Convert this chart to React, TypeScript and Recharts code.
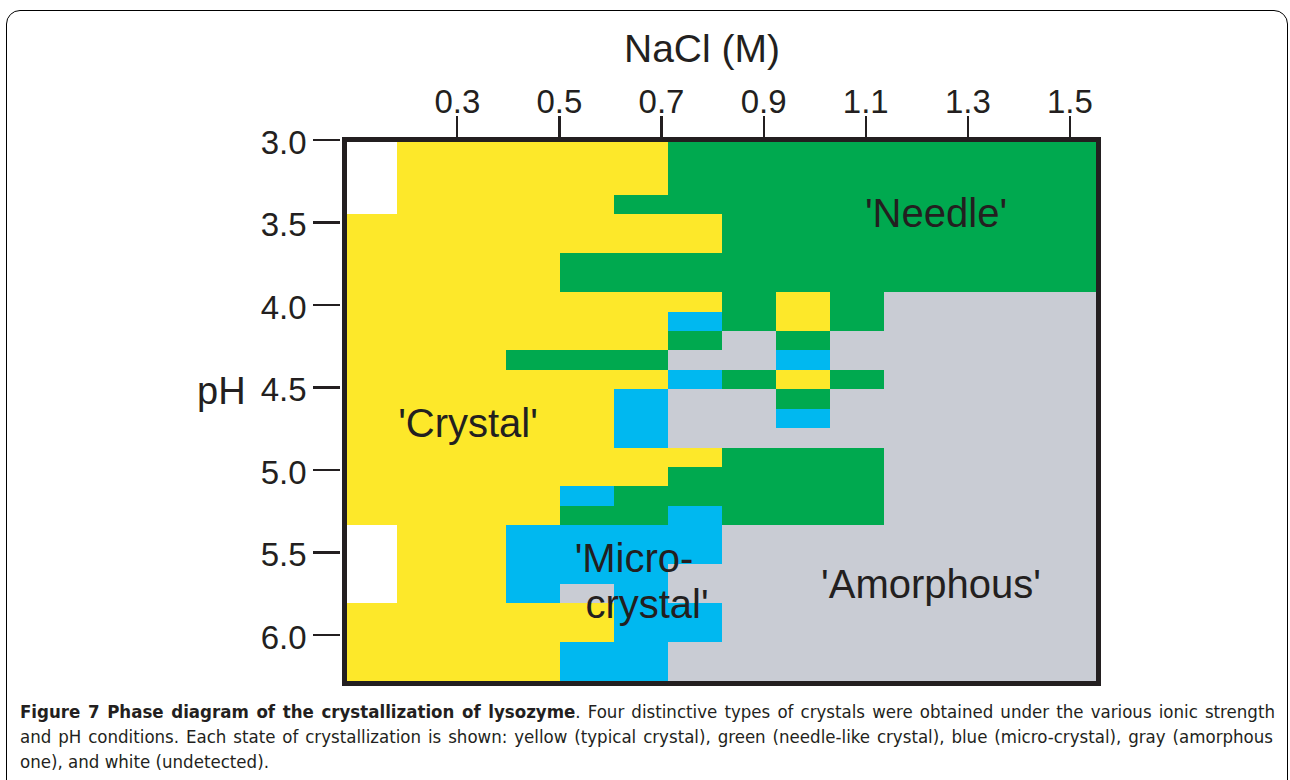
import React from 'react';
import { ComposedChart, XAxis, YAxis, ReferenceArea } from 'recharts';

// NaCl (M) edges of the 14 grid columns
const naclEdges = [0.078, 0.1825, 0.2885, 0.3944, 0.5004, 0.6063, 0.7123, 0.8182, 0.9242, 1.0302, 1.1361, 1.2421, 1.348, 1.454, 1.555];
// pH edges of the 28 grid rows
const phEdges = [
  2.994, 3.098, 3.216, 3.334, 3.451, 3.569, 3.687, 3.805, 3.922, 4.04, 4.158, 4.275, 4.393, 4.511, 4.628,
  4.746, 4.864, 4.982, 5.099, 5.217, 5.335, 5.452, 5.57, 5.688, 5.805, 5.923, 6.041, 6.158, 6.294,
];
// state of each cell, one string per pH row, one letter per NaCl column
// Y crystal, G needle, B micro-crystal, A amorphous, W undetected
const states = [
  'WYYYYYGGGGGGGG',
  'WYYYYYGGGGGGGG',
  'WYYYYYGGGGGGGG',
  'WYYYYGGGGGGGGG',
  'YYYYYYYGGGGGGG',
  'YYYYYYYGGGGGGG',
  'YYYYGGGGGGGGGG',
  'YYYYGGGGGGGGGG',
  'YYYYYYYGYGAAAA',
  'YYYYYYBGYGAAAA',
  'YYYYYYGAGAAAAA',
  'YYYGGGAABAAAAA',
  'YYYYYYBGYGAAAA',
  'YYYYYBAAGAAAAA',
  'YYYYYBAABAAAAA',
  'YYYYYBAAAAAAAA',
  'YYYYYYYGGGAAAA',
  'YYYYYYGGGGAAAA',
  'YYYYBGGGGGAAAA',
  'YYYYGGBGGGAAAA',
  'WYYBBBBAAAAAAA',
  'WYYBBBBAAAAAAA',
  'WYYBBBAAAAAAAA',
  'WYYBABAAAAAAAA',
  'YYYYYBBAAAAAAA',
  'YYYYYBBAAAAAAA',
  'YYYYBBAAAAAAAA',
  'YYYYBBAAAAAAAA',
];
const naclTicks = [0.3, 0.5, 0.7, 0.9, 1.1, 1.3, 1.5];
const phTicks = [3.0, 3.5, 4.0, 4.5, 5.0, 5.5, 6.0];
const regionLabels = [
  { text: "'Needle'", x: 936, y: 227 },
  { text: "'Crystal'", x: 468, y: 437 },
  { text: "'Micro-", x: 634, y: 572 },
  { text: "crystal'", x: 647, y: 618 },
  { text: "'Amorphous'", x: 931, y: 598 },
];

const colors: Record<string, string> = {
  Y: '#fde82a',
  G: '#00a94f',
  B: '#00b8f0',
  A: '#c9ccd4',
  W: '#ffffff',
};

const INK = '#231f20';
const FONT = '"Liberation Sans", Arial, sans-serif';
const PLOT_TOP = 139;
const PLOT_LEFT = 344;

// merge runs of equal cells within a row
const cells: { x1: number; x2: number; y1: number; y2: number; s: string }[] = [];
states.forEach((row, r) => {
  let start = 0;
  for (let c = 1; c <= row.length; c++) {
    if (c === row.length || row[c] !== row[start]) {
      cells.push({ x1: naclEdges[start], x2: naclEdges[c], y1: phEdges[r], y2: phEdges[r + 1], s: row[start] });
      start = c;
    }
  }
});

const TopTick = (props: any) => {
  const { x, payload } = props;
  return (
    <g>
      <line x1={x} x2={x} y1={116} y2={PLOT_TOP} stroke={INK} strokeWidth={2.2} />
      <text x={x} y={113} textAnchor="middle" fontSize={33} fontFamily={FONT} fill={INK}>
        {Number(payload.value).toFixed(1)}
      </text>
    </g>
  );
};

const LeftTick = (props: any) => {
  const { y, payload } = props;
  return (
    <g>
      <line x1={312.5} x2={PLOT_LEFT - 4.5} y1={y} y2={y} stroke={INK} strokeWidth={2.2} />
      <text x={306.5} y={y + 14} textAnchor="end" fontSize={33} fontFamily={FONT} fill={INK}>
        {Number(payload.value).toFixed(1)}
      </text>
    </g>
  );
};

export default function App() {
  return (
    <div style={{ position: 'absolute', left: 0, top: 0, width: 1290, height: 780, overflow: 'hidden', background: '#fff' }}>
      <div
        style={{
          position: 'absolute', left: 6, top: 10, width: 1282, height: 820,
          border: '1.5px solid #000', borderRadius: 14, boxSizing: 'border-box',
        }}
      />
      <div style={{ position: 'absolute', left: 0, top: 0, shapeRendering: 'crispEdges' } as React.CSSProperties}>
        <ComposedChart width={1290} height={700} margin={{ top: 99, right: 192, bottom: 16.5, left: 264 }}>
          <XAxis
            type="number"
            orientation="top"
            dataKey="x"
            domain={[naclEdges[0], naclEdges[naclEdges.length - 1]]}
            ticks={naclTicks}
            interval={0}
            allowDataOverflow
            height={40}
            axisLine={false}
            tickLine={false}
            tick={<TopTick />}
          />
          <YAxis
            type="number"
            dataKey="y"
            domain={[phEdges[0], phEdges[phEdges.length - 1]]}
            reversed
            ticks={phTicks}
            interval={0}
            allowDataOverflow
            width={80}
            axisLine={false}
            tickLine={false}
            tick={<LeftTick />}
          />
          {cells.map((c, i) => (
            <ReferenceArea
              key={i}
              x1={c.x1}
              x2={c.x2}
              y1={c.y1}
              y2={c.y2}
              fill={colors[c.s]}
              fillOpacity={1}
              stroke="none"
              ifOverflow="visible"
            />
          ))}
          <ReferenceArea
            x1={naclEdges[0]}
            x2={naclEdges[naclEdges.length - 1]}
            y1={phEdges[0]}
            y2={phEdges[phEdges.length - 1]}
            fill="none"
            stroke={INK}
            strokeWidth={5}
            ifOverflow="visible"
          />
        </ComposedChart>
      </div>
      <svg width={1290} height={700} style={{ position: 'absolute', left: 0, top: 0, pointerEvents: 'none' }}>
        <text x={702} y={62} textAnchor="middle" fontSize={39} fontFamily={FONT} fill={INK}>
          NaCl (M)
        </text>
        <text x={197} y={404} fontSize={38} fontFamily={FONT} fill={INK}>
          pH
        </text>
        {regionLabels.map((l) => (
          <text key={l.text} x={l.x} y={l.y} textAnchor="middle" fontSize={40} fontFamily={FONT} fill={INK}>
            {l.text}
          </text>
        ))}
      </svg>
      <div
        style={{
          position: 'absolute', left: 20, top: 699, width: 1255,
          fontFamily: '"Liberation Sans Narrow", "DejaVu Sans Condensed", sans-serif',
          fontSize: 18.5, lineHeight: '25px', color: INK,
        }}
      >
        <div style={{ textAlign: 'justify', textAlignLast: 'justify', whiteSpace: 'nowrap' }}>
          <b>Figure 7 Phase diagram of the crystallization of lysozyme</b>. Four distinctive types of crystals were obtained under the various ionic strength
        </div>
        <div style={{ textAlign: 'justify', textAlignLast: 'justify', width: 1253 }}>
          and pH conditions. Each state of crystallization is shown: yellow (typical crystal), green (needle-like crystal), blue (micro-crystal), gray (amorphous
        </div>
        <div>one), and white (undetected).</div>
      </div>
    </div>
  );
}
